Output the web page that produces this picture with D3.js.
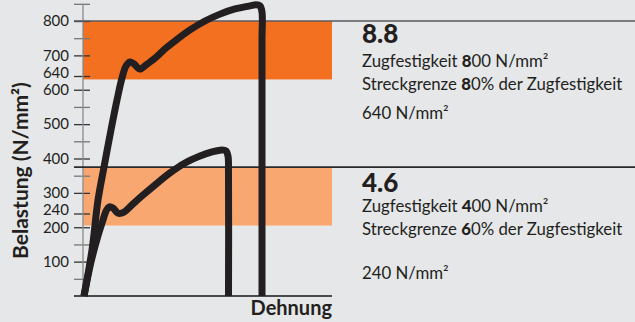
<!DOCTYPE html>
<html>
<head>
<meta charset="utf-8">
<script src="https://cdn.jsdelivr.net/npm/d3@7"></script>
<style>
  html, body { margin: 0; padding: 0; background: #e6e7e9; }
  svg { display: block; }
  text { font-family: Lato, "Open Sans", sans-serif; fill: #231f20; }
</style>
</head>
<body>
<svg id="chart" width="635" height="322"></svg>
<script>
// Stress axis ticks (N/mm²) and the ones that carry a label
const yTicks = [0, 50, 100, 150, 200, 240, 300, 350, 400, 450, 500, 550, 600, 640, 700, 750, 800, 850];
const yLabels = [100, 200, 240, 300, 400, 500, 600, 640, 700, 800];
// labels that sit just above a neighbour get lifted a little
const yLabelLift = { 640: -3.5, 240: -3.5 };

// Property classes
const grades = ["8.8", "4.6"];
const tensileStrength = [800, 400];   // Zugfestigkeit
const yieldRatio = [80, 60];          // Streckgrenze in % der Zugfestigkeit
const yieldStress = [640, 240];       // resulting Streckgrenze
const bandLow = [630, 205];
const bandHigh = [800, 375];
const dividerAt = [800, 375];

// Stress-strain curves (strain in arbitrary units, stress in N/mm²)
const strain88 = [0.4, 3.6, 6.0, 8.4, 11.2, 13.6, 15.6, 17.2, 18.8, 20.4, 22.8, 25.2, 28.8, 32.8, 36.8, 42.8, 48.8, 54.8, 60.8, 66.8, 69.2, 70.8, 71.6, 71.6, 71.6];
const stress88 = [0, 134, 279, 375, 483, 570, 634, 669, 681, 675, 660, 672, 692, 719, 742, 774, 800, 820, 835, 844, 847, 844, 826, 745, 0];
const strain46 = [0.4, 3.2, 6.0, 8.0, 9.2, 10.4, 12.0, 14.0, 16.4, 19.6, 23.6, 28.8, 34.8, 40.8, 46.8, 51.6, 55.6, 57.2, 58.0, 58.2, 58.2];
const stress46 = [0, 99, 175, 221, 247, 259, 256, 241, 244, 265, 291, 323, 358, 387, 407, 419, 425, 422, 407, 352, 0];

const svg = d3.select("#chart");
const x = d3.scaleLinear().domain([0, 100]).range([83, 333]);
const y = d3.scaleLinear().domain([0, 800]).range([296, 21]);

const dark = "#231f20";
const bandColors = ["#f37021", "#f9a770"];

// Bands
svg.selectAll("rect.band").data(grades).join("rect")
  .attr("class", "band")
  .attr("x", x(0))
  .attr("width", x(99.6) - x(0))
  .attr("y", (d, i) => y(bandHigh[i]))
  .attr("height", (d, i) => y(bandLow[i]) - y(bandHigh[i]))
  .attr("fill", (d, i) => bandColors[i]);

// Y axis
const yAxis = d3.axisLeft(y)
  .tickValues(yTicks.filter(v => v > 0))
  .tickSize(0)
  .tickPadding(14)
  .tickFormat(v => yLabels.includes(v) ? v : "");
const gy = svg.append("g").attr("transform", `translate(${x(0)},0)`).call(yAxis);
gy.select(".domain").remove();
gy.selectAll(".tick text")
  .attr("font-size", 15)
  .attr("fill", "#231f20")
  .attr("y", v => yLabelLift[v] || 0)
  .style("font-family", "Lato, sans-serif");
gy.selectAll(".tick").append("line")
  .attr("x1", -9).attr("x2", 7)
  .attr("stroke", v => yLabels.includes(v) ? "#333" : "#777")
  .attr("stroke-width", 1.3);
gy.append("line")
  .attr("y1", y(850)).attr("y2", y(0))
  .attr("stroke", "#8a8a8c").attr("stroke-width", 1.3);

// Divider lines running across to the right edge
svg.selectAll("line.divider").data(dividerAt).join("line")
  .attr("class", "divider")
  .attr("x1", x(0) - 9).attr("x2", 635)
  .attr("y1", d => y(d)).attr("y2", d => y(d))
  .attr("stroke", (d, i) => i === 0 ? "#5a5a5c" : "#2a2a2a")
  .attr("stroke-width", 1.6);

// X axis
svg.append("line")
  .attr("x1", x(0) - 9).attr("x2", x(99.6))
  .attr("y1", y(0)).attr("y2", y(0))
  .attr("stroke", "#4a4a4c").attr("stroke-width", 2);

// Curves
const line = d3.line()
  .x(d => x(d[0])).y(d => y(d[1]))
  .curve(d3.curveCatmullRom.alpha(0.5));
const curves = [
  d3.zip(strain88, stress88),
  d3.zip(strain46, stress46)
];
svg.selectAll("path.curve").data(curves).join("path")
  .attr("class", "curve")
  .attr("d", line)
  .attr("fill", "none")
  .attr("stroke", dark)
  .attr("stroke-width", 7)
  .attr("stroke-linejoin", "round");

// Axis titles
svg.append("text")
  .attr("transform", `translate(28,${y(365)}) rotate(-90)`)
  .attr("text-anchor", "middle")
  .attr("font-size", 21)
  .attr("font-weight", 700)
  .text("Belastung (N/mm²)");
svg.append("text")
  .attr("x", 332).attr("y", 315)
  .attr("text-anchor", "end")
  .attr("font-size", 20)
  .attr("font-weight", 700)
  .text("Dehnung");

// Class descriptions
const blockTop = [43, 191.5];
const lx = 362;
const fs = 16.8;
grades.forEach((g, i) => {
  const t0 = blockTop[i];
  svg.append("text").attr("x", lx).attr("y", t0)
    .attr("font-size", 26).attr("font-weight", 900).attr("fill", "#2b0a0c")
    .text(g);
  const ts = String(tensileStrength[i]);
  const l1 = svg.append("text").attr("x", lx).attr("y", t0 + 23.5 - (i ? 3.5 : 0)).attr("font-size", fs);
  l1.append("tspan").text("Zugfestigkeit ");
  l1.append("tspan").attr("font-weight", 900).text(ts[0]);
  l1.append("tspan").text(ts.slice(1) + " N/mm²");
  const yr = String(yieldRatio[i]);
  const l2 = svg.append("text").attr("x", lx).attr("y", t0 + 47 - (i ? 3.5 : 0)).attr("font-size", fs);
  l2.append("tspan").text("Streckgrenze ");
  l2.append("tspan").attr("font-weight", 900).text(yr[0]);
  l2.append("tspan").text(yr.slice(1) + "% der Zugfestigkeit");
  svg.append("text").attr("x", lx).attr("y", t0 + (i ? 87.5 : 76)).attr("font-size", fs)
    .text(yieldStress[i] + " N/mm²");
});
</script>
</body>
</html>
